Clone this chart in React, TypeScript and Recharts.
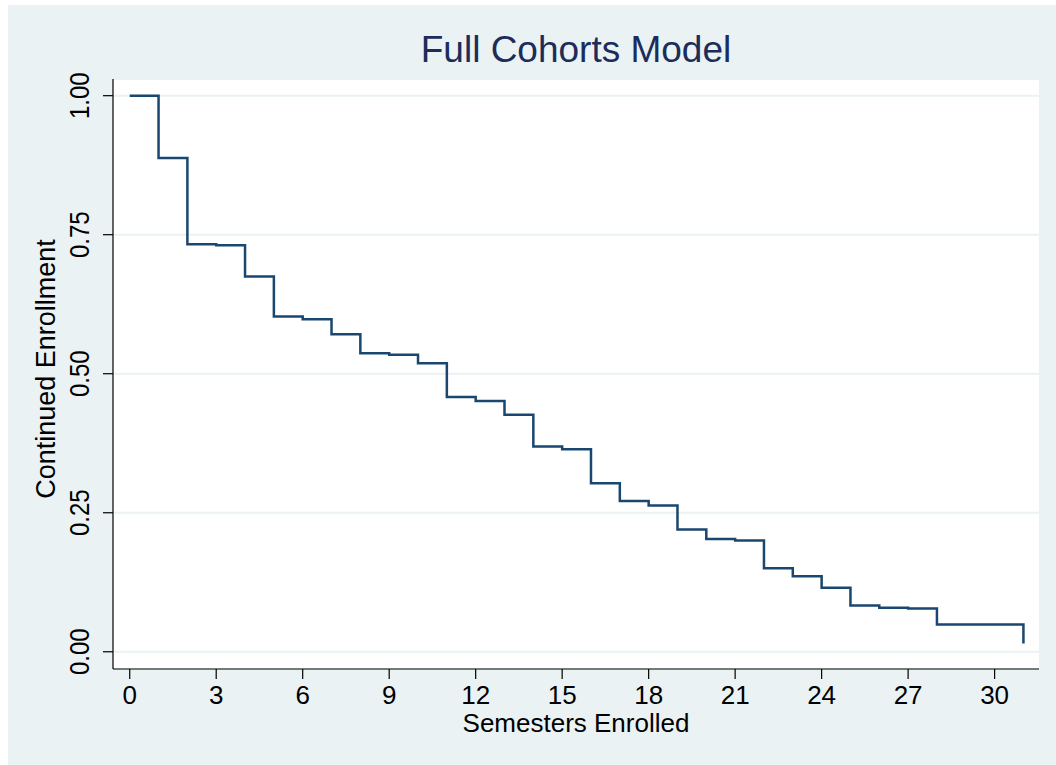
import React from 'react';
import { LineChart, Line, XAxis, YAxis, CartesianGrid, Label } from 'recharts';

// page setup: no body margin, chart placed by hand
document.body.style.margin = '0';
document.body.style.overflow = 'hidden';

const semesters = [
  0, 1, 2, 3, 4, 5, 6, 7, 8, 9, 10, 11, 12, 13, 14, 15,
  16, 17, 18, 19, 20, 21, 22, 23, 24, 25, 26, 27, 28, 29, 30, 31,
];
const survival = [
  1.0, 0.888, 0.733, 0.731, 0.675, 0.603, 0.598, 0.571, 0.537, 0.534, 0.519, 0.458,
  0.451, 0.426, 0.369, 0.364, 0.303, 0.271, 0.263, 0.22, 0.203, 0.2, 0.15, 0.136,
  0.115, 0.083, 0.079, 0.078, 0.049, 0.049, 0.049, 0.015,
];
const xTicks = [0, 3, 6, 9, 12, 15, 18, 21, 24, 27, 30];
const yTicks = [0, 0.25, 0.5, 0.75, 1];

const data = semesters.map((t, i) => ({ t, s: survival[i] }));

const FONT = '"Liberation Sans", Arial, Helvetica, sans-serif';
const BG = '#eaf2f3';
const NAVY = '#1a476f';

const YTick = (props: any) => {
  const { x, y, payload } = props;
  const bx = x - 14;
  return (
    <text
      transform={`translate(${bx},${y}) rotate(-90) scale(1,1.17)`}
      textAnchor="middle"
      fontSize={24}
      fontFamily={FONT}
      fill="#000"
    >
      {payload.value.toFixed(2)}
    </text>
  );
};

const XTitle = (props: any) => {
  const vb = props.viewBox;
  return (
    <text
      x={vb.x + vb.width / 2}
      y={vb.y + 63}
      textAnchor="middle"
      fontSize={26}
      fontFamily={FONT}
      fill="#000"
    >
      Semesters Enrolled
    </text>
  );
};

const YTitle = () => (
  <text
    transform="translate(47,364) rotate(-90)"
    textAnchor="middle"
    fontSize={27}
    fontFamily={FONT}
    fill="#000"
  >
    Continued Enrollment
  </text>
);

export default function App() {
  return (
    <div
      style={{
        position: 'relative',
        marginLeft: 8,
        marginTop: 5,
        width: 1048,
        height: 760,
        background: BG,
        fontFamily: FONT,
      }}
    >
      <div
        style={{
          position: 'absolute',
          left: 0,
          width: 1136,
          top: 26,
          textAlign: 'center',
          fontSize: 37,
          lineHeight: '37px',
          color: '#1c2c5b',
          whiteSpace: 'nowrap',
        }}
      >
        Full Cohorts Model
      </div>
      <LineChart
        width={1048}
        height={760}
        data={data}
        margin={{ top: 74, right: 17, left: 0, bottom: 0 }}
      >
        <CartesianGrid
          vertical={false}
          stroke={BG}
          strokeWidth={2}
          fill="#ffffff"
          fillOpacity={1}
        />
        <XAxis
          dataKey="t"
          type="number"
          domain={[-0.58, 31.54]}
          ticks={xTicks}
          allowDataOverflow
          height={96}
          tickSize={10}
          tickMargin={7}
          stroke="#000"
          tick={{ fill: '#000', fontSize: 26, fontFamily: FONT }}
          axisLine={{ stroke: '#000', strokeWidth: 1.2 }}
          tickLine={{ stroke: '#000', strokeWidth: 1.2 }}
        >
          <Label content={XTitle} />
        </XAxis>
        <YAxis
          type="number"
          domain={[-0.031, 1.03]}
          ticks={yTicks}
          allowDataOverflow
          width={105}
          tickSize={10}
          tickMargin={0}
          stroke="#000"
          tick={YTick}
          axisLine={{ stroke: '#000', strokeWidth: 1.2 }}
          tickLine={{ stroke: '#000', strokeWidth: 1.2 }}
        >
          <Label content={YTitle} />
        </YAxis>
        <Line
          type="stepAfter"
          dataKey="s"
          stroke={NAVY}
          strokeWidth={2.5}
          dot={false}
          isAnimationActive={false}
        />
      </LineChart>
    </div>
  );
}
